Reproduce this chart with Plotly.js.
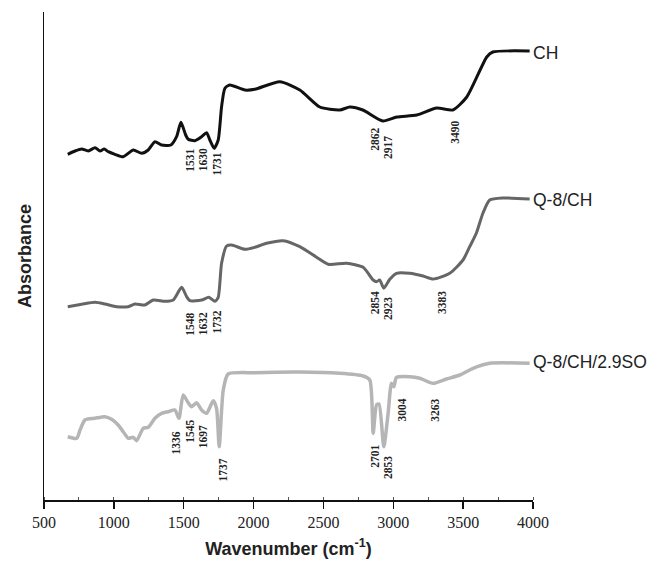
<!DOCTYPE html>
<html>
<head>
<meta charset="utf-8">
<script src="https://cdn.plot.ly/plotly-3.0.1.min.js"></script>
<style>html,body{margin:0;padding:0;background:#fff;}#chart{width:667px;height:568px;}</style>
</head>
<body>
<div id="chart"></div>
<script>
// ---- Data (wavenumber in cm-1, absorbance in arbitrary offset units) ----
const chWn = [670,722,770,817,865,901,931,960,1008,1067,1139,1199,1246,1294,1342,1408,1449,1480,1514,1532,1580,1628,1664,1687,1718,1747,1771,1795,1830,1938,2009,2188,2331,2474,2617,2689,2782,2925,3025,3168,3311,3426,3526,3669,3712,3976];
const chAbs = [345.7,349,351,349,352.3,349,351,348.3,345.7,343.3,350,346.7,350,358.3,355,355,363.3,377.7,365,360.7,359.3,363.3,367.3,360,351.7,360,393.3,411.7,415,410,410.7,418.3,410,393,390,393,390,379,383,385,392,390,403,443,448,449];

const q8Wn = [670,770,865,936,1020,1103,1151,1222,1282,1366,1425,1485,1521,1544,1628,1680,1723,1747,1771,1807,1843,1938,2009,2093,2212,2331,2451,2534,2665,2784,2856,2880,2903,2932,2975,3023,3118,3213,3285,3404,3499,3547,3595,3642,3690,3783,3976];
const q8Abs = [193.3,195.7,197.7,196,193.3,193.3,196,195,200,198.7,200,212.7,203.3,199.3,200,202.7,198.7,202.7,236.7,254,255,250.7,252.7,256.7,259.3,253.3,242.7,235.7,236.7,232.7,220,218.3,220,211.7,220.7,226.7,226.7,224,221,226.7,240,253.3,267,287,300,302,301];

const soWn = [670,734,758,793,865,936,984,1031,1067,1103,1139,1163,1210,1246,1294,1342,1389,1437,1466,1496,1532,1557,1592,1628,1664,1711,1735,1754,1783,1818,2009,2331,2617,2784,2832,2856,2880,2898,2932,2963,2987,3004,3023,3118,3190,3285,3380,3476,3571,3690,3976];
const soAbs = [63.3,61.7,70,80,81.7,83.3,80.7,75,68.3,61.7,62.7,59.3,71.7,72.7,81.7,86.7,88.3,90,81.7,105,97.3,93.3,97.3,90,86.7,99.3,91.7,53.3,110,126,127.3,128,126.7,124,120,66.7,95,96,53.3,86.7,116.7,113.3,122.7,123.3,121.7,116.7,121,125,131.7,136.7,136.7];

const seriesNames = ["CH", "Q-8/CH", "Q-8/CH/2.9SO"];
const seriesNameY = [447, 300, 138];

// Peak labels (text) and where they sit (wavenumber, absorbance)
const chPeakText = ["1531","1630","1731","2862","2917","3490"];
const chPeakWn   = [1544,1640,1735,2868,2963,3440];
const chPeakAbs  = [340,340,336,361,352,368];

const q8PeakText = ["1548","1632","1732","2854","2923","3383"];
const q8PeakWn   = [1544,1640,1735,2868,2963,3345];
const q8PeakAbs  = [176,176,178,197.5,191,197.5];

const soPeakText = ["1336","1545","1697","1737","2701","2853","3004","3263"];
const soPeakWn   = [1444,1544,1640,1778,2868,2963,3059,3297];
const soPeakAbs  = [57.5,69,63,30,44,32,90,90];

const xTickVals = [500,1000,1500,2000,2500,3000,3500,4000];

const SERIF = "Liberation Serif";
const SANS = "Liberation Sans";

// ---- Traces ----
const colors = ["#111111", "#666666", "#b5b5b5"];
const widths = [3, 3, 3.5];
const xs = [chWn, q8Wn, soWn];
const ys = [chAbs, q8Abs, soAbs];
const traces = xs.map((x, i) => ({
  x: x, y: ys[i], type: "scatter", mode: "lines", name: seriesNames[i],
  line: {color: colors[i], width: widths[i], shape: "spline", smoothing: 0.6},
  hoverinfo: "skip"
}));

const annotations = [];
const peakSets = [[chPeakText, chPeakWn, chPeakAbs],[q8PeakText, q8PeakWn, q8PeakAbs],[soPeakText, soPeakWn, soPeakAbs]];
peakSets.forEach(s => {
  s[0].forEach((t, j) => annotations.push({
    x: s[1][j], y: s[2][j], xref: "x", yref: "y", text: "<b>" + t + "</b>",
    showarrow: false, textangle: -90, xanchor: "center", yanchor: "middle",
    font: {family: SERIF, size: 11.5, color: "#222"}
  }));
});
seriesNames.forEach((n, i) => annotations.push({
  x: 3985, y: seriesNameY[i], xref: "x", yref: "y", text: n, showarrow: false,
  xanchor: "left", yanchor: "middle",
  font: {family: SANS, size: 17.5, color: "#222"}
}));

const layout = {
  width: 667, height: 568,
  font: {family: SERIF, size: 16, color: "#222"},
  margin: {l: 44, r: 134, t: 12, b: 68, pad: 0},
  paper_bgcolor: "#fff", plot_bgcolor: "#fff",
  showlegend: false,
  xaxis: {
    range: [500, 4000], tickmode: "array", tickvals: xTickVals, ticktext: xTickVals.map(String),
    showgrid: false, zeroline: false, showline: true, linecolor: "#111", linewidth: 1.5,
    ticks: "outside", ticklen: 7, tickwidth: 1.5, tickcolor: "#111",
    minor: {dtick: 250, tick0: 500, ticks: "inside", ticklen: 3, tickwidth: 1, tickcolor: "#555", showgrid: false},
    tickfont: {family: SERIF, size: 16, color: "#222"},
    title: {text: "<b>Wavenumber (cm<sup>-1</sup>)</b>", standoff: 12,
            font: {family: SANS, size: 18, color: "#222"}},
    automargin: false
  },
  yaxis: {
    range: [0, 488], showgrid: false, zeroline: false, showline: true, linecolor: "#111", linewidth: 1.5,
    ticks: "", showticklabels: false,
    title: {text: "<b>Absorbance</b>", standoff: 6,
            font: {family: SANS, size: 18, color: "#222"}},
    automargin: false
  },
  annotations: annotations
};

Plotly.newPlot("chart", traces, layout, {displayModeBar: false, staticPlot: true});
</script>
</body>
</html>
